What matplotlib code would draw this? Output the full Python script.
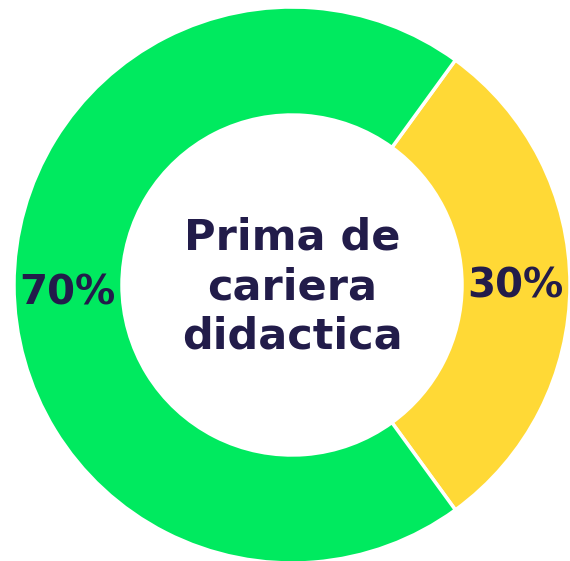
import matplotlib
matplotlib.use("Agg")
import matplotlib.pyplot as plt

categories = ["Da", "Nu"]
values = [30, 70]
colors = ["#FFD936", "#00EA5F"]
center_text = "Prima de\ncariera\ndidactica"
text_color = "#221C4A"

W, H = 570, 561
cx, cy = 292, 285
R, r = 278, 170

fig = plt.figure(figsize=(W / 100, H / 100), dpi=100)
ax = fig.add_axes([0, 0, 1, 1])

wedges, texts, autotexts = ax.pie(
    values, colors=colors, startangle=-54, counterclock=True, radius=R,
    autopct=lambda p: f"{p:.0f}%", pctdistance=(R + r) / 2 / R,
    wedgeprops=dict(width=R - r, edgecolor="white", linewidth=2.5),
    textprops=dict(color=text_color, fontsize=29, fontweight="bold", family="DejaVu Sans"),
)
ax.set_xlim(-cx, W - cx)
ax.set_ylim(-(H - cy), cy)
ax.set_aspect("equal")
ax.axis("off")

x0, y0 = autotexts[0].get_position()
autotexts[0].set_position((x0 - 1, y0 - 1))
x1, y1 = autotexts[1].get_position()
autotexts[1].set_position((x1 - 1, y1 - 8))

ax.text(0, -2, center_text, ha="center", va="center", color=text_color,
        fontsize=31, fontweight="bold", family="DejaVu Sans", linespacing=1.22)

fig.savefig("out.png", dpi=100)
